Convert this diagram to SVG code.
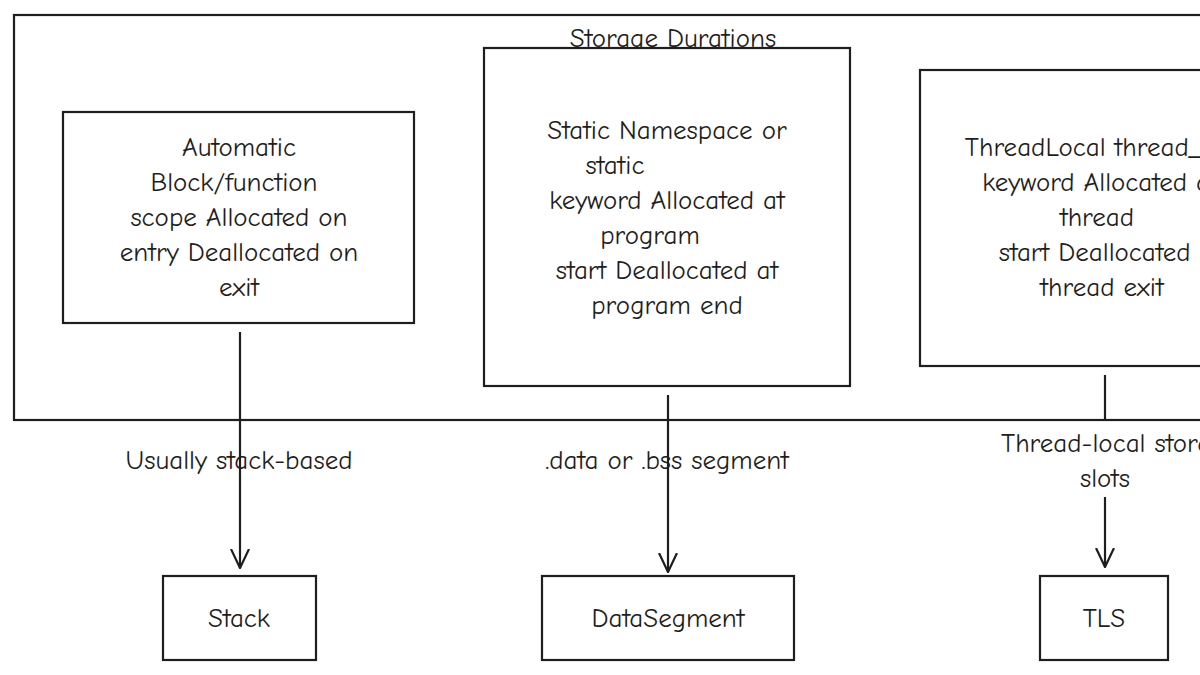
<svg xmlns="http://www.w3.org/2000/svg" width="1200" height="675" viewBox="0 0 1200 675">
<style>
rect{fill:#fff;stroke:#1e1e1e;stroke-width:2.2}
text{font-family:"Comic Neue","Liberation Sans",sans-serif;font-size:27px;fill:#1e1e1e;text-anchor:middle}
.c{stroke:#1e1e1e;stroke-width:2.2;fill:none}
</style>
<defs><marker id="a" viewBox="0 0 20 20" refX="19" refY="10" markerWidth="20" markerHeight="20" markerUnits="userSpaceOnUse" orient="auto"><path d="M0 1 L19 10 L0 19" class="c"/></marker></defs>
<rect id="frame" x="14" y="15" width="1200" height="405" fill="none"/>
<text x="673" y="47">Storage Durations</text>
<g id="auto"><rect x="63" y="112" width="351" height="211"/>
<text x="239" y="156">Automatic</text><text x="234" y="191">Block/function</text><text x="239" y="226">scope Allocated on</text><text x="239" y="261">entry Deallocated on</text><text x="239" y="296">exit</text></g>
<g id="static"><rect x="484" y="48" width="366" height="338"/>
<text x="667" y="139">Static Namespace or</text><text x="615" y="174">static</text><text x="667" y="209">keyword Allocated at</text><text x="650" y="244">program</text><text x="667" y="279">start Deallocated at</text><text x="667" y="314">program end</text></g>
<g id="thread"><rect x="920" y="70" width="300" height="296"/>
<text x="1110" y="156">ThreadLocal thread_local</text><text x="1100" y="191">keyword Allocated at</text><text x="1097" y="226">thread</text><text x="1110" y="261">start Deallocated at</text><text x="1102" y="296">thread exit</text></g>
<g id="connectors">
<path class="c" d="M240 332 L240 568" marker-end="url(#a)"/>
<path class="c" d="M668 395 L668 572" marker-end="url(#a)"/>
<path class="c" d="M1105 375 L1105 420"/>
<path class="c" d="M1105 497 L1105 567" marker-end="url(#a)"/>
<text x="239" y="469">Usually stack-based</text>
<text x="667" y="469">.data or .bss segment</text>
<text x="1120" y="452">Thread-local storage</text>
<text x="1105" y="487">slots</text>
</g>
<g id="stack"><rect x="163" y="576" width="153" height="84"/><text x="239" y="627">Stack</text></g>
<g id="data"><rect x="542" y="576" width="252" height="84"/><text x="668" y="627">DataSegment</text></g>
<g id="tls"><rect x="1040" y="576" width="128" height="84"/><text x="1104" y="627">TLS</text></g>
</svg>
